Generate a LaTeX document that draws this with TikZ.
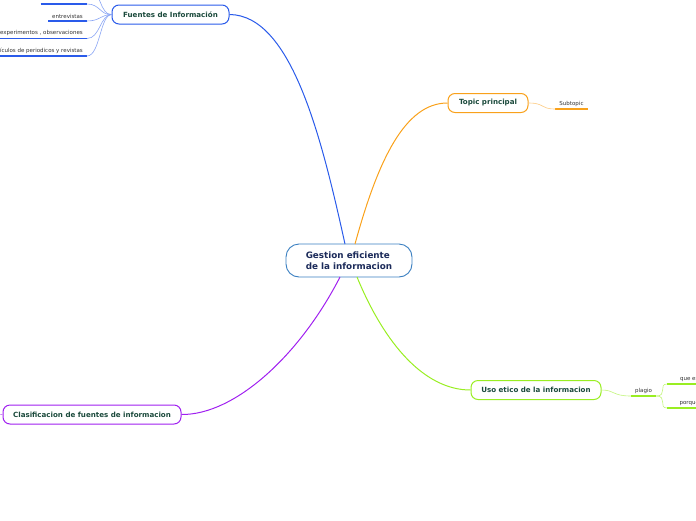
\documentclass[tikz,border=0pt]{standalone}
\usepackage{fontspec}
\setmainfont{DejaVu Sans}
\definecolor{fuenteblue}{HTML}{2A5BEA}
\definecolor{topicorange}{HTML}{F9A11B}
\definecolor{usogreen}{HTML}{99EE22}
\definecolor{clasipurple}{HTML}{A020F0}
\definecolor{centerblue}{HTML}{3A7FC1}
\definecolor{topictext}{HTML}{1B4A3C}
\definecolor{centertext}{HTML}{1C2B5A}
\definecolor{leaftext}{HTML}{333333}
\tikzset{
  topicbox/.style={draw, line width=1pt, rounded corners=7pt, fill=white,
    inner xsep=6pt, minimum height=19pt, text=topictext,
    font=\fontsize{7.1}{8}\selectfont\bfseries},
  leafnode/.style={inner xsep=4pt, inner ysep=2.5pt, text=leaftext,
    font=\fontsize{5.5}{6}\selectfont},
  branch/.style={line width=1pt},
  twig/.style={line width=0.6pt}
}
\begin{document}
\begin{tikzpicture}[x=1pt,y=-1pt]
\useasboundingbox (0,0) rectangle (696,520);
% central topic
\node[draw=centerblue, line width=0.9pt, rounded corners=13pt, fill=white,
  minimum width=126pt, minimum height=33pt, text=centertext, align=left,
  font=\fontsize{8.8}{10.5}\selectfont\bfseries] (center) at (349,260.5)
  {Gestion eficiente\\de la informacion};
% main topics
\node[topicbox, draw=fuenteblue, minimum width=117pt] (fuentes) at (170.5,14.5) {Fuentes de Información};
\node[topicbox, draw=topicorange, minimum width=80pt] (topic) at (488,103) {Topic principal};
\node[topicbox, draw=usogreen, minimum width=130pt] (uso) at (536,390) {Uso etico de la informacion};
\node[topicbox, draw=clasipurple, minimum width=178pt] (clasi) at (92,414.5) {Clasificacion de fuentes de informacion};
% branches
\draw[branch, fuenteblue] (345,244) .. controls (322,140) and (292,15) .. (fuentes.east);
\draw[branch, topicorange] (355,244) .. controls (378,160) and (405,103) .. (topic.west);
\draw[branch, usogreen] (357,277) .. controls (385,345) and (425,390) .. (uso.west);
\draw[branch, clasipurple] (340,277) .. controls (300,355) and (235,415) .. (clasi.east);
% leaves of Fuentes
\node[leafnode, minimum width=46pt, anchor=south east] (hidden) at (87,4) {};
\node[leafnode, anchor=south east] (entrev) at (87,21) {entrevistas};
\node[leafnode, anchor=south east] (exper) at (87,38.5) {experimentos , observaciones};
\node[leafnode, anchor=south east] (artic) at (87,56) {artículos de periodicos y revistas};
\coordinate (upper) at (90,-14);
\foreach \leaf in {hidden,entrev,exper,artic}{
  \draw[fuenteblue, line width=1.8pt] (\leaf.south west) -- (\leaf.south east);
  \draw[twig, fuenteblue!55] (fuentes.west) .. controls (100,15) and ([xshift=13pt]\leaf.south east) .. (\leaf.south east);
}
\draw[twig, fuenteblue!55] (fuentes.west) .. controls (100,15) and (100,-10) .. (upper);
% leaf of Topic principal
\node[leafnode, anchor=south] (sub) at (571.5,109) {Subtopic};
\draw[topicorange, line width=1.2pt] (sub.south west) -- (sub.south east);
\draw[twig, topicorange!55] (topic.east) .. controls (545,103) and (540,109) .. (sub.south west);
% leaves of Uso etico
\node[leafnode, anchor=south] (plagio) at (643.5,396) {plagio};
\draw[usogreen, line width=1.8pt] (plagio.south west) -- (plagio.south east);
\draw[twig, usogreen!60] (uso.east) .. controls (615,390) and (612,396) .. (plagio.south west);
\node[leafnode, minimum width=44pt, anchor=south west] (quees) at (667,384) {que es};
\node[leafnode, minimum width=44pt, anchor=south west] (porque) at (667,408) {porque};
\foreach \leaf in {quees,porque}{
  \draw[usogreen, line width=1.8pt] (\leaf.south west) -- (\leaf.south east);
  \draw[twig, usogreen!60] (plagio.south east) .. controls (668,396) and ([xshift=-9pt]\leaf.south west) .. (\leaf.south west);
}
% stub of Clasificacion
\coordinate (clasichild) at (-12,415);
\draw[twig, clasipurple!60] (clasi.west) -- (clasichild);
\end{tikzpicture}
\end{document}
